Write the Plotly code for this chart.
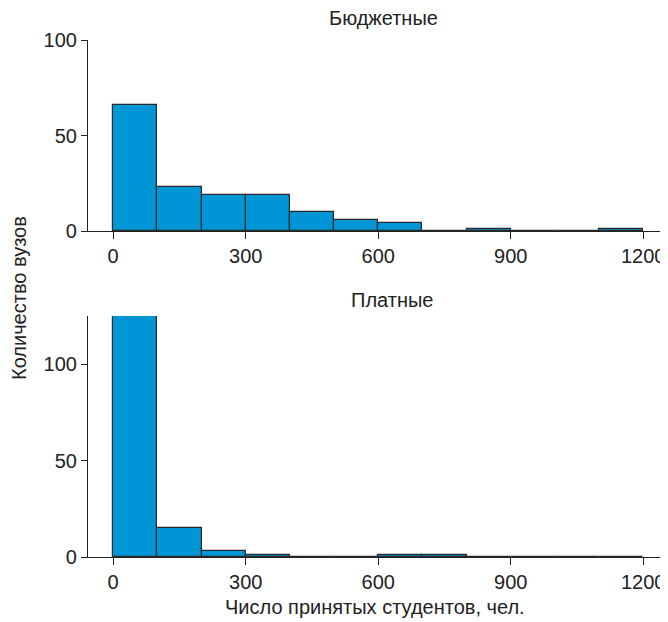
import plotly.graph_objects as go

# Bin edges: 0..1200 step 100
bin_starts = [0, 100, 200, 300, 400, 500, 600, 700, 800, 900, 1000, 1100]
budget_counts = [66, 23, 19, 19, 10, 6, 4, 0, 1, 0, 0, 1]
paid_counts = [125, 15, 3, 1, 0, 0, 1, 1, 0, 0, 0, 0]
x_ticks = [0, 300, 600, 900, 1200]
titles = ["Бюджетные", "Платные"]
x_title = "Число принятых студентов, чел."
y_title = "Количество вузов"

OFF = 8  # page body margin
W, H = 668 - OFF, 622 - OFF
BAR = "#0096D6"
EDGE = "#2a2a2a"
TXT = "#222222"
FONT = "Liberation Sans, Arial, sans-serif"

centers = [s + 50 for s in bin_starts]

fig = go.Figure()
fig.add_trace(go.Bar(x=centers, y=budget_counts, width=100, xaxis="x", yaxis="y",
                     marker=dict(color=BAR, line=dict(color=EDGE, width=1.2)), showlegend=False))
fig.add_trace(go.Bar(x=centers, y=paid_counts, width=100, xaxis="x2", yaxis="y2",
                     marker=dict(color=BAR, line=dict(color=EDGE, width=1.2)), showlegend=False))

def py(p):
    return 1 - (p - OFF) / H

def px(p):
    return (p - OFF) / W

xdom = [px(88), px(660)]
xr = [-57, 1238]
axis_common = dict(showline=True, linecolor=TXT, linewidth=1.2, ticks="outside",
                   tickcolor=TXT, tickwidth=1.2, showgrid=False, zeroline=False,
                   automargin=False,
                   tickfont=dict(family=FONT, size=20, color=TXT))

ann_font = dict(family=FONT, size=20, color=TXT)
fig.update_layout(
    template="none",
    width=W, height=H,
    margin=dict(l=0, r=0, t=0, b=0, pad=0, autoexpand=False),
    paper_bgcolor="white", plot_bgcolor="white",
    bargap=0,
    xaxis=dict(domain=xdom, range=xr, anchor="y", tickvals=x_ticks, ticklen=7, **axis_common),
    yaxis=dict(domain=[py(231), py(40)], range=[0, 100], anchor="x", tickvals=[0, 50, 100],
               ticklen=6, **axis_common),
    xaxis2=dict(domain=xdom, range=xr, anchor="y2", tickvals=x_ticks, ticklen=7, **axis_common),
    yaxis2=dict(domain=[py(557), py(316)], range=[0, 125], anchor="x2", tickvals=[0, 50, 100],
                ticklen=6, **axis_common),
    annotations=[
        dict(text=titles[0], x=px(383), y=py(18), xref="paper", yref="paper", showarrow=False,
             xanchor="center", yanchor="middle", font=ann_font),
        dict(text=titles[1], x=px(392), y=py(300), xref="paper", yref="paper", showarrow=False,
             xanchor="center", yanchor="middle", font=ann_font),
        dict(text=x_title, x=px(375), y=py(607), xref="paper", yref="paper", showarrow=False,
             xanchor="center", yanchor="middle", font=ann_font),
        dict(text=y_title, x=px(19), y=py(298), xref="paper", yref="paper", showarrow=False,
             xanchor="center", yanchor="middle", textangle=-90, font=ann_font),
    ],
)

fig.write_html("out.html")
